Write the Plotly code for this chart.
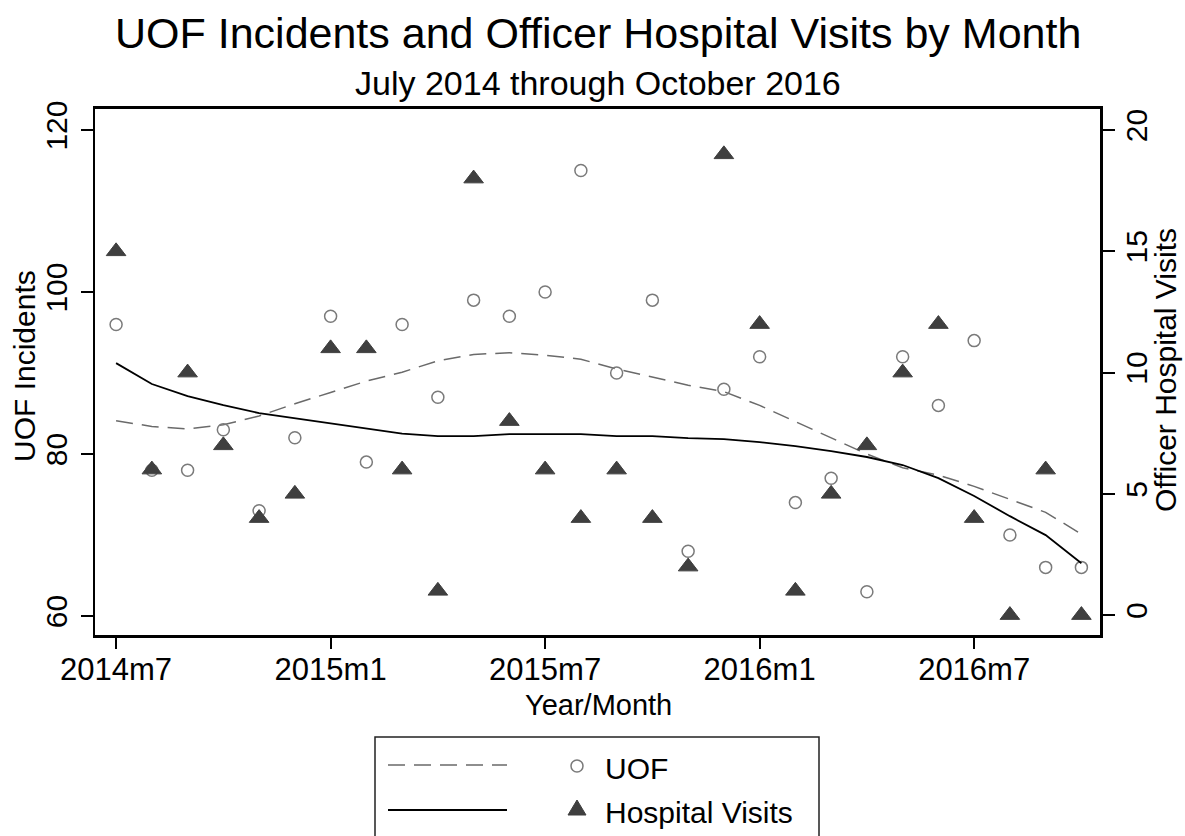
import plotly.graph_objects as go

months = ["2014m7", "2014m8", "2014m9", "2014m10", "2014m11", "2014m12",
          "2015m1", "2015m2", "2015m3", "2015m4", "2015m5", "2015m6",
          "2015m7", "2015m8", "2015m9", "2015m10", "2015m11", "2015m12",
          "2016m1", "2016m2", "2016m3", "2016m4", "2016m5", "2016m6",
          "2016m7", "2016m8", "2016m9", "2016m10"]

uof = [96, 78, 78, 83, 73, 82, 97, 79, 96, 87, 99, 97,
       100, 115, 90, 99, 68, 88, 92, 74, 77, 63, 92, 86,
       94, 70, 66, 66]

hospital = [15, 6, 10, 7, 4, 5, 11, 11, 6, 1, 18, 8,
            6, 4, 6, 4, 2, 19, 12, 1, 5, 7, 10, 12,
            4, 0, 6, 0]

uof_lowess = [84.1, 83.4, 83.1, 83.6, 84.7, 86.2, 87.6, 89.0, 90.1, 91.5, 92.3, 92.5,
              92.2, 91.7, 90.5, 89.5, 88.5, 87.7, 86.0, 84.0, 82.0, 80.0, 78.3, 77.4,
              76.0, 74.4, 72.8, 70.1]

hosp_lowess = [10.39, 9.53, 9.03, 8.66, 8.33, 8.12, 7.92, 7.71, 7.48, 7.38, 7.38, 7.46,
               7.46, 7.46, 7.38, 7.38, 7.30, 7.26, 7.13, 6.97, 6.76, 6.52, 6.19, 5.65,
               4.91, 4.08, 3.30, 2.14]

x_ticks = ["2014m7", "2015m1", "2015m7", "2016m1", "2016m7"]
left_ticks = [60, 80, 100, 120]
right_ticks = [0, 5, 10, 15, 20]

FONT = "Arial, 'Liberation Sans', sans-serif"
CIRCLE_COLOR = "#7a7a7a"
TRI_COLOR = "#3f3f3f"
DASH_COLOR = "#6a6a6a"

fig = go.Figure()
fig.add_trace(go.Scatter(x=months, y=uof_lowess, mode="lines", yaxis="y",
                         line=dict(color=DASH_COLOR, width=1.5, dash="17px,9px"),
                         showlegend=False, hoverinfo="skip"))
fig.add_trace(go.Scatter(x=months, y=uof, mode="markers", yaxis="y", name="UOF",
                         marker=dict(symbol="circle-open", size=12,
                                     color=CIRCLE_COLOR, line=dict(width=1.5, color=CIRCLE_COLOR)),
                         showlegend=False))
fig.add_trace(go.Scatter(x=months, y=hosp_lowess, mode="lines", yaxis="y2",
                         line=dict(color="black", width=1.8),
                         showlegend=False, hoverinfo="skip"))
fig.add_trace(go.Scatter(x=months, y=hospital, mode="markers", yaxis="y2", name="Hospital Visits",
                         marker=dict(symbol="triangle-up", size=17, color=TRI_COLOR,
                                     line=dict(width=1, color=TRI_COLOR)),
                         showlegend=False))

W, H = 1185, 836
L, R, T, B = 95, 85, 109, 201
PW, PH = W - L - R, H - T - B


def px(xp):
    return (xp - L) / PW


def py(yp):
    return (H - B - yp) / PH


axis_common = dict(showgrid=False, zeroline=False, showline=True, linecolor="black",
                   ticks="outside", tickcolor="black", tickwidth=1.5)

fig.update_layout(
    width=W, height=H,
    margin=dict(l=L, r=R, t=T, b=B, pad=0),
    paper_bgcolor="white", plot_bgcolor="white",
    font=dict(family=FONT, color="black"),
    showlegend=False,
    xaxis=dict(type="category", categoryorder="array", categoryarray=months,
               range=[-0.59, 27.52], tickvals=x_ticks, ticktext=x_ticks,
               ticklen=11, linewidth=2.5, mirror=True,
               tickfont=dict(size=31, family=FONT, color="black"),
               ticklabelstandoff=-6, **axis_common),
    yaxis=dict(range=[57.65, 122.6], tickvals=left_ticks, tickangle=-90,
               ticklen=12, linewidth=2,
               tickfont=dict(size=30, family=FONT, color="black"),
               ticklabelstandoff=2, **axis_common),
    yaxis2=dict(range=[-0.82, 20.87], tickvals=right_ticks, tickangle=-90,
                overlaying="y", side="right", ticklen=12, linewidth=2.5,
                tickfont=dict(size=30, family=FONT, color="black"),
                ticklabelstandoff=-4, **axis_common),
)

annotations = [
    dict(text="UOF Incidents and Officer Hospital Visits by Month", x=px(598), y=py(33),
         font=dict(size=43, family=FONT, color="black")),
    dict(text="July 2014 through October 2016", x=px(598), y=py(83),
         font=dict(size=34, family=FONT, color="black")),
    dict(text="Year/Month", x=px(598), y=py(705),
         font=dict(size=29, family=FONT, color="black")),
    dict(text="UOF Incidents", x=px(24), y=py(366), textangle=-90,
         font=dict(size=30, family=FONT, color="black")),
    dict(text="Officer Hospital Visits", x=px(1165), y=py(370), textangle=-90,
         font=dict(size=30, family=FONT, color="black")),
    dict(text="UOF", x=px(603), y=py(768), xanchor="left",
         font=dict(size=30, family=FONT, color="black")),
    dict(text="Hospital Visits", x=px(603), y=py(812), xanchor="left",
         font=dict(size=30, family=FONT, color="black")),
]
for a in annotations:
    a.setdefault("xanchor", "center")
    a.update(xref="paper", yref="paper", yanchor="middle", showarrow=False)
fig.update_layout(annotations=annotations)

shapes = [
    # legend frame
    dict(type="rect", x0=px(375), x1=px(819), y0=py(737), y1=py(870),
         line=dict(color="#222222", width=1.5), fillcolor="rgba(0,0,0,0)"),
    # legend line samples
    dict(type="line", x0=px(388), x1=px(507), y0=py(765), y1=py(765),
         line=dict(color=DASH_COLOR, width=1.5, dash="17px,9px")),
    dict(type="line", x0=px(388), x1=px(507), y0=py(810), y1=py(810),
         line=dict(color="black", width=1.8)),
    # legend circle
    dict(type="circle", x0=px(577 - 6), x1=px(577 + 6), y0=py(766 - 6), y1=py(766 + 6),
         line=dict(color=CIRCLE_COLOR, width=1.5), fillcolor="white"),
    # legend triangle
    dict(type="path",
         path="M {a},{b} L {c},{b} L {d},{e} Z".format(
             a=px(577 - 9), c=px(577 + 9), b=py(815), d=px(577), e=py(800)),
         line=dict(color=TRI_COLOR, width=1), fillcolor=TRI_COLOR),
]
for s in shapes:
    s.update(xref="paper", yref="paper", layer="above")
fig.update_layout(shapes=shapes)

fig.write_html("out.html", config={"displayModeBar": False},
               post_script="document.body.style.margin='0';document.body.style.overflow='hidden';")
